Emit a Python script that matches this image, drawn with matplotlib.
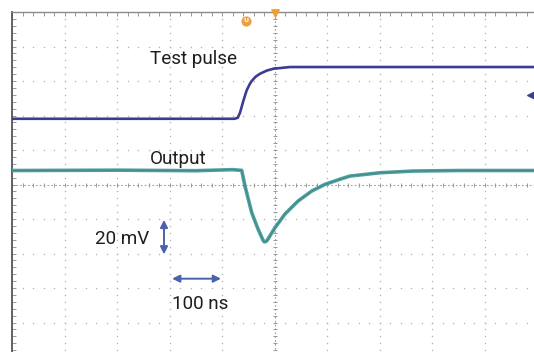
import matplotlib
matplotlib.use("Agg")
import matplotlib.pyplot as plt
import numpy as np

# scope scale: 100 ns/div horizontally, 20 mV/div vertically, 10 x 10 divisions
T_DIV = 100
V_DIV = 20

# traces (time in ns, level in mV)
pulse_t = [-500, -76, -70, -65.7, -59.4, -53.0, -47, -43.4, -36, -27.6, -15, -2.3, 29.5, 500]
pulse_v = [38.1, 38.1, 38.7, 41.6, 48.4, 54.6, 58.3, 60.0, 62.5, 64.2, 66.0, 67.1, 68.1, 68.1]

out_t = [-500, -300, -150, -80, -62.5, -56.2, -43.4, -31.4, -22, -19.4, -15, -12.4, 1.0, 20,
         44.8, 70.9, 96.2, 128, 143.8, 201, 263.8, 350, 500]
out_v = [8.1, 8.3, 8.0, 8.6, 8.2, -0.9, -16.3, -25.8, -32.2, -33.3, -32.8, -31.6, -25.0, -17.1,
         -9.6, -3.8, 0.1, 3.4, 4.9, 6.8, 7.8, 8.1, 8.1]

labels = ["Test pulse", "Output", "20 mV", "100 ns"]

PULSE_COL = "#3d3b92"
OUT_COL = "#52a0a0"
ARROW_COL = "#4a62ad"
GRID_COL = "#b5b5b5"

fig = plt.figure(figsize=(5.34, 3.52), dpi=100)
ax = fig.add_axes([12 / 534, (352 - 357) / 352, 525 / 534, 345 / 352])
ax.set_xlim(-5 * T_DIV, 5 * T_DIV)
ax.set_ylim(-5 * V_DIV, 5 * V_DIV)

# dotted graticule: a dot every 1/5 division along each major line
minor_x = np.arange(-5 * T_DIV, 5 * T_DIV + 1, T_DIV / 5)
minor_y = np.arange(-5 * V_DIV, 5 * V_DIV + 0.1, V_DIV / 5)
for gx in np.arange(-4, 5) * T_DIV:
    if gx == 0:
        continue
    ax.scatter(np.full_like(minor_y, gx), minor_y, s=1.2, color=GRID_COL, lw=0, zorder=1)
for gy in np.arange(-4, 5) * V_DIV:
    if gy == 0:
        continue
    ax.scatter(minor_x, np.full_like(minor_x, gy), s=1.2, color=GRID_COL, lw=0, zorder=1)

# centre cross with fine ticks
ax.axhline(0, color="#a0a0a0", lw=0.8, ls=(0, (1.5, 2)), zorder=1)
ax.axvline(0, color="#a0a0a0", lw=0.8, ls=(0, (1.5, 2)), zorder=1)
ax.scatter(minor_x, np.zeros_like(minor_x), marker="|", s=12, color="#999999", lw=0.7, zorder=1)
ax.scatter(np.zeros_like(minor_y), minor_y, marker="_", s=12, color="#999999", lw=0.7, zorder=1)

# border
for side in ["right", "bottom"]:
    ax.spines[side].set_visible(False)
ax.spines["left"].set_color("#555555")
ax.spines["left"].set_linewidth(1.3)
ax.spines["top"].set_color("#8a8a8a")
ax.spines["top"].set_linewidth(1.0)
ax.set_xticks(minor_x)
ax.set_yticks(minor_y)
ax.tick_params(axis="x", bottom=False, top=True, direction="in", length=3,
               width=0.6, color="#888888", labelbottom=False)
ax.tick_params(axis="y", left=True, right=False, direction="in", length=3,
               width=0.6, color="#888888", labelleft=False)

# traces
ax.plot(pulse_t, pulse_v, color=PULSE_COL, lw=1.9, zorder=3)
ax.plot(out_t, out_v, color=OUT_COL, lw=2.6, zorder=3)
ax.plot(out_t, out_v, color="#3e8a8a", lw=0.8, zorder=3)

# markers on the screen
ax.scatter([0], [5 * V_DIV - 0.8], marker="v", s=28, color="#f0a030", zorder=5, clip_on=False)
ax.scatter([-54.3], [94.8], marker="o", s=40, color="#eea040", zorder=5)
ax.text(-54.3, 94.8, "U", color="white", fontsize=4.5, ha="center", va="center",
        fontweight="bold", zorder=6)
ax.scatter([488.6], [51.9], marker="<", s=30, color=PULSE_COL, zorder=5)

# labels
font = dict(family="Roboto", fontsize=13.6, color="#1e1e1e")
ax.text(-237, 70.0, labels[0], va="baseline", ha="left", **font)
ax.text(-237, 12.1, labels[1], va="baseline", ha="left", **font)
ax.text(-342, -34.7, labels[2], va="baseline", ha="left", **font)
ax.text(-196, -72.3, labels[3], va="baseline", ha="left", **font)

# scale arrows: one division each
arrow = dict(arrowstyle="<|-|>", color=ARROW_COL, lw=1.4, mutation_scale=11,
             shrinkA=0, shrinkB=0)
ax.annotate("", xy=(-210.5, -20.5), xytext=(-210.5, -20.5 - V_DIV), arrowprops=arrow)
ax.annotate("", xy=(-195, -54.6), xytext=(-195 + 0.93 * T_DIV, -54.6), arrowprops=arrow)

fig.savefig("out.png", dpi=100)
